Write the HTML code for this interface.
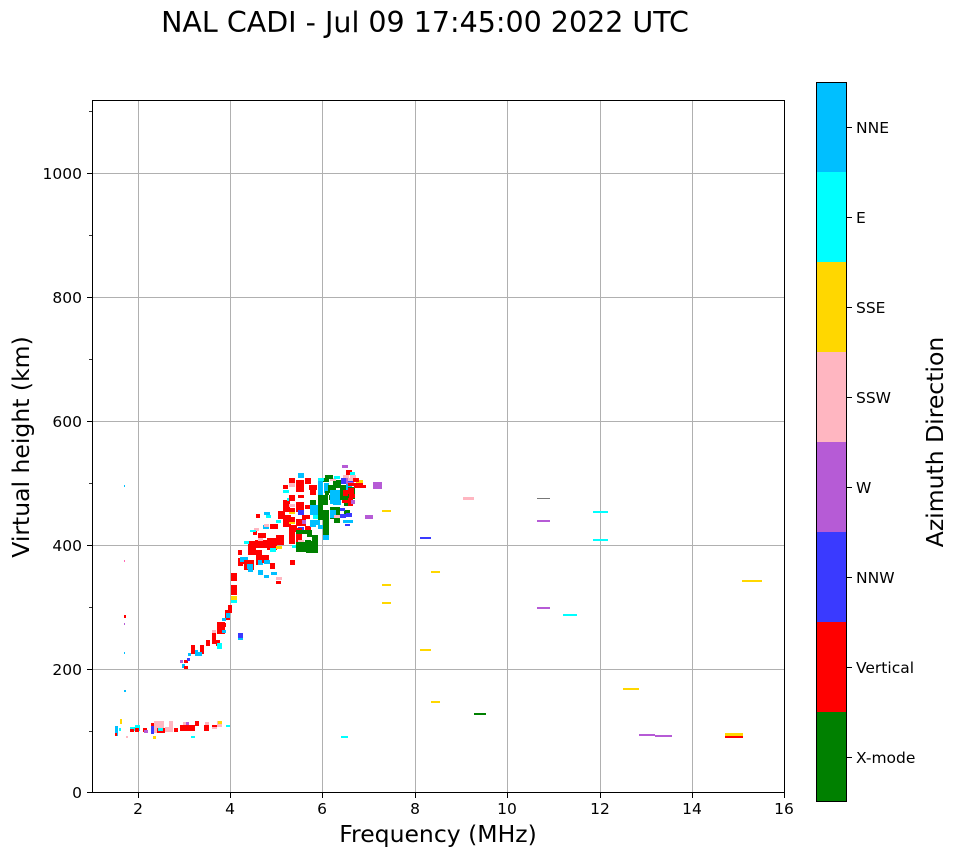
<!DOCTYPE html>
<html><head><meta charset="utf-8"><style>
body{margin:0;background:#fff}
text{font-family:"DejaVu Sans","Liberation Sans",sans-serif}
</style></head><body>
<svg width="958" height="857" xmlns="http://www.w3.org/2000/svg">
<rect width="958" height="857" fill="#fff"/>
<text x="425" y="32" font-size="28.5" text-anchor="middle">NAL CADI - Jul 09 17:45:00 2022 UTC</text>
<g stroke="#b0b0b0" stroke-width="1">
<line x1="138.5" y1="100" x2="138.5" y2="793"/><line x1="230.5" y1="100" x2="230.5" y2="793"/>
<line x1="322.5" y1="100" x2="322.5" y2="793"/><line x1="415.5" y1="100" x2="415.5" y2="793"/>
<line x1="507.5" y1="100" x2="507.5" y2="793"/><line x1="600.5" y1="100" x2="600.5" y2="793"/>
<line x1="692.5" y1="100" x2="692.5" y2="793"/>
<line x1="92" y1="669.5" x2="785" y2="669.5"/><line x1="92" y1="545.5" x2="785" y2="545.5"/>
<line x1="92" y1="421.5" x2="785" y2="421.5"/><line x1="92" y1="297.5" x2="785" y2="297.5"/>
<line x1="92" y1="173.5" x2="785" y2="173.5"/>
</g>
<g id="d">
<rect x="115" y="726" width="3" height="10" fill="#00bfff"/><rect x="120" y="719" width="2" height="5" fill="#ffd700"/>
<rect x="119" y="728" width="2" height="3" fill="#00ffff"/><rect x="115" y="733" width="2" height="3" fill="#ff0000"/>
<rect x="130" y="727" width="5" height="4" fill="#00ffff"/><rect x="130" y="729" width="4" height="3" fill="#ff0000"/>
<rect x="135" y="725" width="5" height="6" fill="#00ffff"/><rect x="135" y="728" width="4" height="4" fill="#ff0000"/>
<rect x="143" y="728" width="4" height="4" fill="#ff0000"/><rect x="144" y="730" width="4" height="3" fill="#b65bd6"/>
<rect x="151" y="723" width="3" height="5" fill="#ff0000"/><rect x="151" y="726" width="3" height="8" fill="#3a3aff"/>
<rect x="154" y="721" width="10" height="12" fill="#ffb6c1"/><rect x="157" y="728" width="8" height="5" fill="#ff0000"/>
<rect x="158" y="728" width="5" height="3" fill="#00ffff"/><rect x="165" y="727" width="8" height="5" fill="#ffb6c1"/>
<rect x="169" y="721" width="4" height="10" fill="#ffb6c1"/><rect x="174" y="728" width="4" height="4" fill="#ff0000"/>
<rect x="180" y="725" width="15" height="6" fill="#ff0000"/><rect x="183" y="722" width="4" height="3" fill="#ffb6c1"/>
<rect x="186" y="722" width="3" height="3" fill="#b65bd6"/><rect x="195" y="721" width="4" height="5" fill="#ff0000"/>
<rect x="204" y="725" width="5" height="6" fill="#ff0000"/><rect x="205" y="722" width="4" height="3" fill="#ffb6c1"/>
<rect x="212" y="725" width="5" height="3" fill="#ff0000"/><rect x="212" y="727" width="5" height="2" fill="#ffb6c1"/>
<rect x="217" y="721" width="5" height="6" fill="#ffb6c1"/><rect x="218" y="721" width="4" height="3" fill="#ffd700"/>
<rect x="226" y="725" width="4" height="2" fill="#00ffff"/><rect x="191" y="736" width="4" height="2" fill="#00ffff"/>
<rect x="153" y="736" width="3" height="3" fill="#ffd700"/><rect x="126" y="736" width="2" height="2" fill="#ffb6c1"/>
<rect x="341" y="736" width="7" height="2" fill="#00ffff"/>
<rect x="124" y="485" width="1" height="2" fill="#00bfff"/><rect x="124" y="560" width="1" height="2" fill="#ff69b4"/>
<rect x="124" y="615" width="2" height="3" fill="#ff0000"/><rect x="124" y="623" width="1" height="2" fill="#b65bd6"/>
<rect x="124" y="652" width="1" height="2" fill="#00bfff"/><rect x="124" y="690" width="2" height="2" fill="#00bfff"/>
<rect x="180" y="660" width="3" height="3" fill="#b65bd6"/><rect x="184" y="660" width="4" height="3" fill="#ff0000"/>
<rect x="182" y="664" width="3" height="4" fill="#00bfff"/><rect x="187" y="658" width="3" height="3" fill="#3a3aff"/>
<rect x="184" y="666" width="4" height="3" fill="#ff0000"/><rect x="191" y="645" width="4" height="9" fill="#ff0000"/>
<rect x="195" y="650" width="3" height="6" fill="#00bfff"/><rect x="188" y="653" width="3" height="3" fill="#00bfff"/>
<rect x="200" y="645" width="4" height="9" fill="#ff0000"/><rect x="198" y="652" width="4" height="4" fill="#00bfff"/>
<rect x="206" y="640" width="4" height="6" fill="#ff0000"/><rect x="212" y="632" width="4" height="12" fill="#ff0000"/>
<rect x="216" y="640" width="4" height="6" fill="#ff0000"/><rect x="217" y="643" width="5" height="6" fill="#00ffff"/>
<rect x="212" y="630" width="4" height="3" fill="#ffb6c1"/><rect x="217" y="622" width="8" height="12" fill="#ff0000"/>
<rect x="222" y="630" width="4" height="3" fill="#00bfff"/><rect x="222" y="623" width="4" height="4" fill="#ff0000"/>
<rect x="225" y="610" width="5" height="10" fill="#ff0000"/><rect x="222" y="618" width="4" height="3" fill="#00bfff"/>
<rect x="228" y="605" width="4" height="8" fill="#ff0000"/><rect x="226" y="613" width="4" height="5" fill="#00bfff"/>
<rect x="231" y="596" width="6" height="4" fill="#ffd700"/><rect x="231" y="600" width="6" height="3" fill="#00ffff"/>
<rect x="231" y="585" width="6" height="10" fill="#ff0000"/><rect x="231" y="573" width="6" height="8" fill="#ff0000"/>
<rect x="238" y="633" width="5" height="5" fill="#3a3aff"/><rect x="238" y="638" width="5" height="2" fill="#00bfff"/>
<rect x="238" y="558" width="5" height="8" fill="#ff0000"/><rect x="238" y="550" width="4" height="5" fill="#ff0000"/>
<rect x="243" y="560" width="3" height="4" fill="#ff0000"/><rect x="240" y="557" width="8" height="5" fill="#00bfff"/>
<rect x="244" y="560" width="10" height="10" fill="#ff0000"/><rect x="247" y="564" width="6" height="5" fill="#00bfff"/>
<rect x="248" y="568" width="5" height="4" fill="#00bfff"/><rect x="248" y="547" width="8" height="8" fill="#ff0000"/>
<rect x="256" y="550" width="6" height="15" fill="#ff0000"/><rect x="258" y="560" width="5" height="5" fill="#00bfff"/>
<rect x="262" y="555" width="7" height="8" fill="#ff0000"/><rect x="264" y="560" width="6" height="4" fill="#00bfff"/>
<rect x="258" y="570" width="5" height="5" fill="#00bfff"/><rect x="264" y="575" width="5" height="3" fill="#00bfff"/>
<rect x="270" y="563" width="5" height="6" fill="#ff0000"/><rect x="276" y="581" width="5" height="3" fill="#ff0000"/>
<rect x="276" y="577" width="6" height="3" fill="#ffb6c1"/><rect x="271" y="572" width="6" height="3" fill="#00bfff"/>
<rect x="248" y="541" width="7" height="6" fill="#ff0000"/><rect x="244" y="541" width="5" height="3" fill="#00ffff"/>
<rect x="255" y="540" width="12" height="8" fill="#ff0000"/><rect x="258" y="538" width="5" height="3" fill="#ffb6c1"/>
<rect x="267" y="538" width="10" height="12" fill="#ff0000"/><rect x="270" y="548" width="6" height="4" fill="#00ffff"/>
<rect x="276" y="535" width="8" height="10" fill="#ff0000"/><rect x="276" y="546" width="6" height="3" fill="#ffd700"/>
<rect x="253" y="530" width="4" height="5" fill="#ff0000"/><rect x="258" y="533" width="8" height="5" fill="#ff0000"/>
<rect x="254" y="528" width="5" height="3" fill="#ffb6c1"/><rect x="263" y="525" width="6" height="4" fill="#00bfff"/>
<rect x="250" y="530" width="5" height="2" fill="#00ffff"/><rect x="270" y="524" width="8" height="5" fill="#ff0000"/>
<rect x="276" y="520" width="5" height="3" fill="#00ffff"/><rect x="278" y="511" width="7" height="8" fill="#ff0000"/>
<rect x="283" y="515" width="8" height="12" fill="#ff0000"/><rect x="266" y="515" width="5" height="3" fill="#00ffff"/>
<rect x="283" y="500" width="7" height="12" fill="#ff0000"/><rect x="287" y="498" width="6" height="3" fill="#00ffff"/>
<rect x="283" y="490" width="6" height="3" fill="#00ffff"/><rect x="283" y="485" width="5" height="4" fill="#ff0000"/>
<rect x="253" y="530" width="3" height="2" fill="#00ffff"/><rect x="256" y="514" width="4" height="4" fill="#ff0000"/>
<rect x="264" y="524" width="5" height="3" fill="#ffb6c1"/><rect x="264" y="512" width="6" height="3" fill="#00bfff"/>
<rect x="289" y="525" width="8" height="7" fill="#ff0000"/><rect x="289" y="521" width="6" height="3" fill="#ffd700"/>
<rect x="289" y="478" width="6" height="6" fill="#ff0000"/><rect x="289" y="483" width="6" height="4" fill="#ffb6c1"/>
<rect x="289" y="495" width="6" height="6" fill="#ff0000"/><rect x="289" y="504" width="6" height="3" fill="#ffb6c1"/>
<rect x="289" y="508" width="6" height="4" fill="#ff0000"/><rect x="289" y="512" width="6" height="2" fill="#ffd700"/>
<rect x="289" y="517" width="6" height="5" fill="#ff0000"/><rect x="289" y="530" width="6" height="6" fill="#ff0000"/>
<rect x="289" y="536" width="6" height="8" fill="#ff0000"/><rect x="292" y="545" width="6" height="3" fill="#00ffff"/>
<rect x="296" y="535" width="6" height="8" fill="#ff0000"/><rect x="296" y="546" width="6" height="3" fill="#ffb6c1"/>
<rect x="296" y="480" width="8" height="12" fill="#ff0000"/><rect x="298" y="473" width="6" height="5" fill="#00bfff"/>
<rect x="298" y="495" width="6" height="3" fill="#ff0000"/><rect x="296" y="502" width="8" height="5" fill="#ff0000"/>
<rect x="296" y="507" width="8" height="5" fill="#ff0000"/><rect x="298" y="510" width="6" height="5" fill="#3a3aff"/>
<rect x="296" y="519" width="10" height="7" fill="#ff0000"/><rect x="298" y="527" width="6" height="4" fill="#3a3aff"/>
<rect x="296" y="528" width="6" height="10" fill="#ff0000"/><rect x="290" y="560" width="5" height="5" fill="#ff0000"/>
<rect x="305" y="478" width="6" height="6" fill="#ff0000"/><rect x="309" y="485" width="8" height="5" fill="#ff0000"/>
<rect x="305" y="505" width="6" height="4" fill="#ff0000"/><rect x="302" y="515" width="8" height="4" fill="#ff0000"/>
<rect x="302" y="520" width="4" height="4" fill="#b65bd6"/><rect x="305" y="526" width="6" height="5" fill="#ff0000"/>
<rect x="307" y="532" width="5" height="5" fill="#008000"/><rect x="305" y="540" width="6" height="5" fill="#008000"/>
<rect x="310" y="500" width="6" height="5" fill="#008000"/><rect x="310" y="490" width="6" height="5" fill="#ff0000"/>
<rect x="312" y="535" width="6" height="8" fill="#008000"/><rect x="298" y="540" width="6" height="4" fill="#ffb6c1"/>
<rect x="296" y="530" width="16" height="4" fill="#008000"/><rect x="296" y="542" width="16" height="10" fill="#008000"/>
<rect x="306" y="541" width="12" height="12" fill="#008000"/><rect x="310" y="520" width="6" height="7" fill="#00bfff"/>
<rect x="314" y="520" width="6" height="5" fill="#00bfff"/><rect x="313" y="515" width="6" height="4" fill="#00ffff"/>
<rect x="318" y="525" width="6" height="4" fill="#00bfff"/><rect x="310" y="505" width="8" height="10" fill="#00bfff"/>
<rect x="318" y="480" width="5" height="15" fill="#00bfff"/><rect x="318" y="495" width="5" height="25" fill="#008000"/>
<rect x="323" y="478" width="6" height="4" fill="#008000"/><rect x="324" y="483" width="5" height="10" fill="#00bfff"/>
<rect x="323" y="495" width="5" height="10" fill="#008000"/><rect x="323" y="510" width="6" height="25" fill="#008000"/>
<rect x="323" y="535" width="6" height="5" fill="#00bfff"/><rect x="328" y="485" width="8" height="8" fill="#008000"/>
<rect x="329" y="495" width="8" height="5" fill="#008000"/><rect x="333" y="480" width="8" height="8" fill="#008000"/>
<rect x="330" y="507" width="10" height="12" fill="#008000"/><rect x="334" y="519" width="6" height="4" fill="#008000"/>
<rect x="330" y="510" width="6" height="8" fill="#00bfff"/><rect x="330" y="500" width="6" height="4" fill="#00bfff"/>
<rect x="330" y="478" width="6" height="3" fill="#ffb6c1"/><rect x="334" y="476" width="6" height="3" fill="#00ffff"/>
<rect x="340" y="485" width="8" height="15" fill="#008000"/><rect x="341" y="478" width="7" height="6" fill="#3a3aff"/>
<rect x="343" y="490" width="6" height="6" fill="#ff0000"/><rect x="343" y="475" width="6" height="3" fill="#ffb6c1"/>
<rect x="342" y="500" width="6" height="3" fill="#ff0000"/><rect x="344" y="503" width="6" height="3" fill="#008000"/>
<rect x="344" y="510" width="6" height="5" fill="#008000"/><rect x="330" y="490" width="10" height="10" fill="#00bfff"/>
<rect x="333" y="500" width="8" height="5" fill="#00bfff"/><rect x="346" y="484" width="6" height="6" fill="#00bfff"/>
<rect x="348" y="487" width="7" height="12" fill="#008000"/><rect x="342" y="465" width="6" height="3" fill="#b65bd6"/>
<rect x="346" y="478" width="8" height="6" fill="#b65bd6"/><rect x="348" y="483" width="15" height="3" fill="#ff0000"/>
<rect x="348" y="478" width="6" height="4" fill="#3a3aff"/><rect x="346" y="470" width="6" height="5" fill="#ff0000"/>
<rect x="356" y="480" width="7" height="3" fill="#ffd700"/><rect x="354" y="485" width="12" height="3" fill="#ff0000"/>
<rect x="348" y="478" width="5" height="3" fill="#ffb6c1"/><rect x="348" y="488" width="6" height="6" fill="#ff0000"/>
<rect x="348" y="498" width="5" height="8" fill="#ff0000"/><rect x="334" y="515" width="6" height="3" fill="#ffb6c1"/>
<rect x="325" y="475" width="8" height="4" fill="#008000"/><rect x="353" y="478" width="6" height="4" fill="#ff0000"/>
<rect x="340" y="514" width="6" height="4" fill="#3a3aff"/><rect x="351" y="500" width="4" height="4" fill="#b65bd6"/>
<rect x="343" y="520" width="10" height="3" fill="#00bfff"/><rect x="349" y="494" width="6" height="4" fill="#ff0000"/>
<rect x="340" y="508" width="5" height="3" fill="#3a3aff"/><rect x="325" y="491" width="4" height="4" fill="#008000"/>
<rect x="350" y="475" width="6" height="3" fill="#ffb6c1"/><rect x="350" y="472" width="5" height="3" fill="#00ffff"/>
<rect x="318" y="478" width="6" height="3" fill="#00ffff"/><rect x="346" y="513" width="6" height="4" fill="#3a3aff"/>
<rect x="345" y="524" width="5" height="2" fill="#3a3aff"/>
<rect x="373" y="482" width="9" height="7" fill="#b65bd6"/><rect x="365" y="515" width="8" height="4" fill="#b65bd6"/>
<rect x="382" y="510" width="9" height="2" fill="#ffd700"/><rect x="382" y="584" width="9" height="2" fill="#ffd700"/>
<rect x="382" y="602" width="9" height="2" fill="#ffd700"/><rect x="420" y="537" width="11" height="2" fill="#3a3aff"/>
<rect x="431" y="571" width="9" height="2" fill="#ffd700"/><rect x="420" y="649" width="11" height="2" fill="#ffd700"/>
<rect x="431" y="701" width="9" height="2" fill="#ffd700"/><rect x="463" y="497" width="11" height="3" fill="#ffb6c1"/>
<rect x="474" y="713" width="12" height="2" fill="#008000"/><rect x="537" y="498" width="13" height="1" fill="#777"/>
<rect x="537" y="520" width="13" height="2" fill="#b65bd6"/><rect x="537" y="607" width="13" height="2" fill="#b65bd6"/>
<rect x="563" y="614" width="14" height="2" fill="#00ffff"/><rect x="593" y="511" width="15" height="2" fill="#00ffff"/>
<rect x="593" y="539" width="15" height="2" fill="#00ffff"/><rect x="623" y="688" width="16" height="2" fill="#ffd700"/>
<rect x="639" y="734" width="16" height="2" fill="#b65bd6"/><rect x="655" y="735" width="17" height="2" fill="#b65bd6"/>
<rect x="725" y="733" width="18" height="3" fill="#ffd700"/><rect x="725" y="736" width="18" height="2" fill="#ff0000"/>
<rect x="742" y="580" width="20" height="2" fill="#ffd700"/>
</g>
<rect x="92.5" y="100.5" width="692" height="692" fill="none" stroke="#000" stroke-width="1"/>
<g stroke="#000" stroke-width="1">
<line x1="138.5" y1="793" x2="138.5" y2="798"/><line x1="230.5" y1="793" x2="230.5" y2="798"/>
<line x1="322.5" y1="793" x2="322.5" y2="798"/><line x1="415.5" y1="793" x2="415.5" y2="798"/>
<line x1="507.5" y1="793" x2="507.5" y2="798"/><line x1="600.5" y1="793" x2="600.5" y2="798"/>
<line x1="692.5" y1="793" x2="692.5" y2="798"/><line x1="784.5" y1="793" x2="784.5" y2="798"/>
<line x1="87" y1="792.5" x2="92" y2="792.5"/><line x1="87" y1="669.5" x2="92" y2="669.5"/>
<line x1="87" y1="545.5" x2="92" y2="545.5"/><line x1="87" y1="421.5" x2="92" y2="421.5"/>
<line x1="87" y1="297.5" x2="92" y2="297.5"/><line x1="87" y1="173.5" x2="92" y2="173.5"/>
</g>
<g stroke="#000" stroke-width="0.8">
<line x1="89" y1="731.5" x2="92" y2="731.5"/><line x1="89" y1="607.5" x2="92" y2="607.5"/>
<line x1="89" y1="483.5" x2="92" y2="483.5"/><line x1="89" y1="359.5" x2="92" y2="359.5"/>
<line x1="89" y1="235.5" x2="92" y2="235.5"/><line x1="89" y1="111.5" x2="92" y2="111.5"/>
</g>
<g font-size="15.5" text-anchor="middle">
<text x="138" y="814">2</text><text x="230" y="814">4</text><text x="322" y="814">6</text>
<text x="415" y="814">8</text><text x="507" y="814">10</text><text x="600" y="814">12</text>
<text x="692" y="814">14</text><text x="784" y="814">16</text>
</g>
<g font-size="15.5" text-anchor="end">
<text x="82" y="798">0</text><text x="82" y="675">200</text><text x="82" y="551">400</text>
<text x="82" y="427">600</text><text x="82" y="303">800</text><text x="82" y="179">1000</text>
</g>
<text x="438" y="842" font-size="23.5" text-anchor="middle">Frequency (MHz)</text>
<text transform="translate(29,447) rotate(-90)" font-size="23.5" text-anchor="middle">Virtual height (km)</text>
<rect x="816" y="82" width="31" height="90" fill="#00bfff"/>
<rect x="816" y="172" width="31" height="90" fill="#00ffff"/>
<rect x="816" y="262" width="31" height="90" fill="#ffd700"/>
<rect x="816" y="352" width="31" height="90" fill="#ffb6c1"/>
<rect x="816" y="442" width="31" height="90" fill="#b65bd6"/>
<rect x="816" y="532" width="31" height="90" fill="#3a3aff"/>
<rect x="816" y="622" width="31" height="90" fill="#ff0000"/>
<rect x="816" y="712" width="31" height="90" fill="#008000"/>
<rect x="816.5" y="82.5" width="30" height="719" fill="none" stroke="#000"/>
<g stroke="#000">
<line x1="847" y1="127.5" x2="852" y2="127.5"/><line x1="847" y1="217.5" x2="852" y2="217.5"/>
<line x1="847" y1="307.5" x2="852" y2="307.5"/><line x1="847" y1="397.5" x2="852" y2="397.5"/>
<line x1="847" y1="487.5" x2="852" y2="487.5"/><line x1="847" y1="577.5" x2="852" y2="577.5"/>
<line x1="847" y1="667.5" x2="852" y2="667.5"/><line x1="847" y1="757.5" x2="852" y2="757.5"/>
</g>
<g font-size="15.5">
<text x="856" y="133">NNE</text><text x="856" y="223">E</text><text x="856" y="313">SSE</text>
<text x="856" y="403">SSW</text><text x="856" y="493">W</text><text x="856" y="583">NNW</text>
<text x="856" y="673">Vertical</text><text x="856" y="763">X-mode</text>
</g>
<text transform="translate(943,442) rotate(-90)" font-size="23.5" text-anchor="middle">Azimuth Direction</text>
</svg>
</body></html>
